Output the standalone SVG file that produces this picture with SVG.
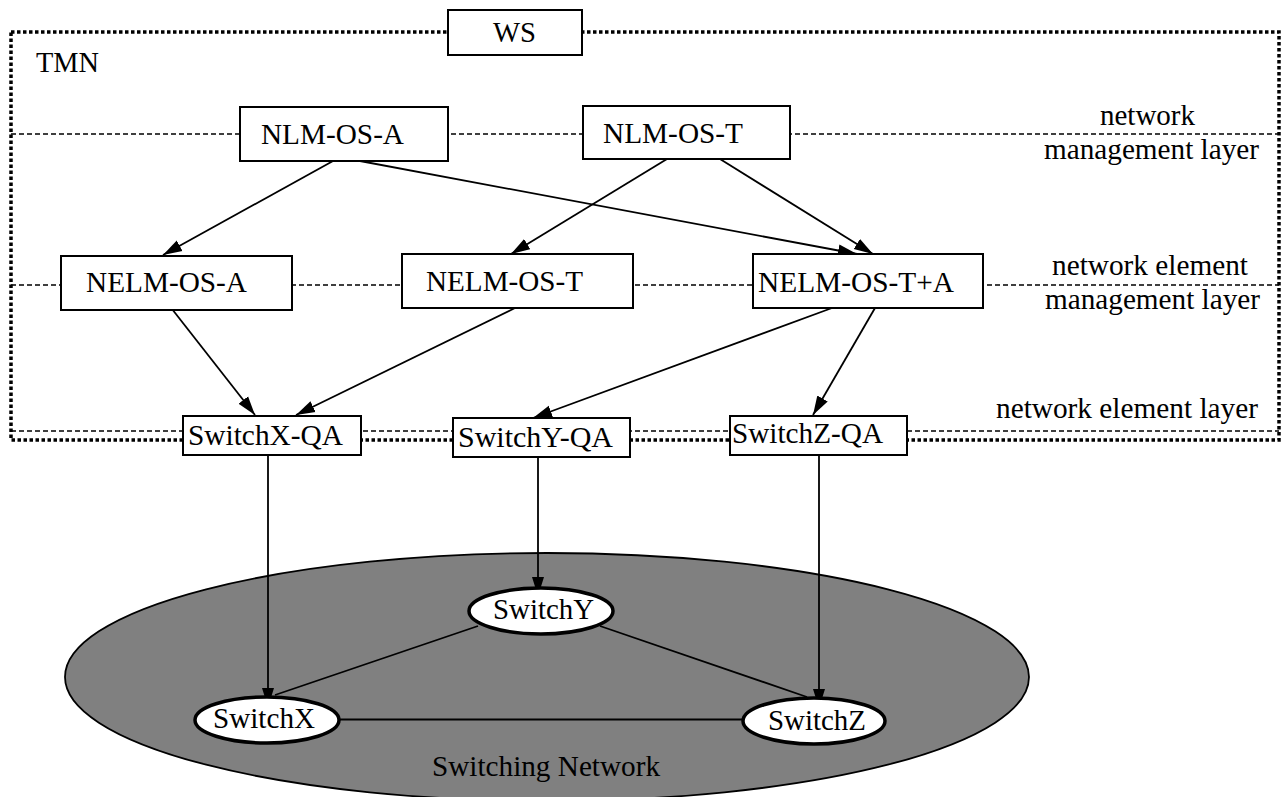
<svg xmlns="http://www.w3.org/2000/svg" width="1282" height="797" viewBox="0 0 1282 797">
<style>
text{font-family:"Liberation Serif","Times New Roman",serif;font-size:28.5px;fill:#000}
.box{fill:#fff;stroke:#000;stroke-width:2}
.frame{fill:none;stroke:#000;stroke-width:3.5;stroke-dasharray:3.5 2.5}
.layer{fill:none;stroke:#000;stroke-width:1.6;stroke-dasharray:5 3}
.edge{fill:none;stroke:#000;stroke-width:1.8}
.arr{fill:none;stroke:#000;stroke-width:1.8;marker-end:url(#ah)}
.sw{fill:#fff;stroke:#000;stroke-width:3.5}
</style>
<defs>
<marker id="ah" markerUnits="userSpaceOnUse" markerWidth="20" markerHeight="14" viewBox="0 0 20 14" refX="19" refY="7" orient="auto">
<path d="M0,1 L19,7 L0,13 Z" fill="#000"/>
</marker>
</defs>
<g id="network-area">
<ellipse cx="547" cy="677" rx="482" ry="124" fill="#808080" stroke="#000" stroke-width="1.8"/>
<text x="432" y="776" textLength="228" lengthAdjust="spacingAndGlyphs">Switching Network</text>
</g>
<g id="tmn-frame">
<rect class="frame" x="11" y="32" width="1268" height="408"/>
<line class="layer" x1="11" y1="134" x2="1279" y2="134"/>
<line class="layer" x1="11" y1="285" x2="1279" y2="285"/>
<line class="layer" x1="11" y1="431" x2="1279" y2="431"/>
<text x="36" y="72" textLength="63" lengthAdjust="spacingAndGlyphs">TMN</text>
<text x="1100" y="125" textLength="95" lengthAdjust="spacingAndGlyphs">network</text>
<text x="1044" y="159" textLength="215" lengthAdjust="spacingAndGlyphs">management layer</text>
<text x="1052" y="275" textLength="196" lengthAdjust="spacingAndGlyphs">network element</text>
<text x="1045" y="309" textLength="215" lengthAdjust="spacingAndGlyphs">management layer</text>
<text x="996" y="418" textLength="262" lengthAdjust="spacingAndGlyphs">network element layer</text>
</g>
<g id="connectors">
<line class="arr" x1="333" y1="161" x2="163" y2="255"/>
<line class="arr" x1="360" y1="161" x2="857" y2="254"/>
<line class="arr" x1="667" y1="159" x2="511" y2="254"/>
<line class="arr" x1="720" y1="159" x2="873" y2="254"/>
<line class="arr" x1="172" y1="309" x2="255" y2="415"/>
<line class="arr" x1="515" y1="308" x2="296" y2="415"/>
<line class="arr" x1="832" y1="308" x2="533" y2="418"/>
<line class="arr" x1="875" y1="308" x2="813" y2="415"/>
<line class="arr" x1="268" y1="455" x2="268" y2="707"/>
<line class="arr" x1="538" y1="457" x2="538" y2="596"/>
<line class="arr" x1="819" y1="455" x2="819" y2="708"/>
<line class="edge" x1="478" y1="626" x2="275" y2="695"/>
<line class="edge" x1="600" y1="626" x2="807" y2="697"/>
<line class="edge" x1="340" y1="719.5" x2="743" y2="719.5"/>
</g>
<g id="WS">
<rect class="box" x="448" y="10" width="134" height="45"/>
<text x="493" y="42" textLength="43" lengthAdjust="spacingAndGlyphs">WS</text>
</g>
<g id="NLM-OS-A">
<rect class="box" x="240" y="107" width="208" height="54"/>
<text x="261" y="144" textLength="143" lengthAdjust="spacingAndGlyphs">NLM-OS-A</text>
</g>
<g id="NLM-OS-T">
<rect class="box" x="583" y="106" width="207" height="53"/>
<text x="603" y="143" textLength="140" lengthAdjust="spacingAndGlyphs">NLM-OS-T</text>
</g>
<g id="NELM-OS-A">
<rect class="box" x="61" y="256" width="231" height="54"/>
<text x="86" y="292" textLength="161" lengthAdjust="spacingAndGlyphs">NELM-OS-A</text>
</g>
<g id="NELM-OS-T">
<rect class="box" x="402" y="254" width="231" height="54"/>
<text x="426" y="291" textLength="157" lengthAdjust="spacingAndGlyphs">NELM-OS-T</text>
</g>
<g id="NELM-OS-TA">
<rect class="box" x="753" y="254" width="230" height="54"/>
<text x="758" y="292" textLength="196" lengthAdjust="spacingAndGlyphs">NELM-OS-T+A</text>
</g>
<g id="SwitchX-QA">
<rect class="box" x="183" y="416" width="178" height="39"/>
<text x="188" y="445" textLength="155" lengthAdjust="spacingAndGlyphs">SwitchX-QA</text>
</g>
<g id="SwitchY-QA">
<rect class="box" x="453" y="418" width="177" height="39"/>
<text x="458" y="447" textLength="155" lengthAdjust="spacingAndGlyphs">SwitchY-QA</text>
</g>
<g id="SwitchZ-QA">
<rect class="box" x="730" y="416" width="177" height="39"/>
<text x="732" y="443" textLength="151" lengthAdjust="spacingAndGlyphs">SwitchZ-QA</text>
</g>
<g id="SwitchX">
<ellipse class="sw" cx="267" cy="720" rx="72" ry="23"/>
<text x="213" y="728" textLength="102" lengthAdjust="spacingAndGlyphs">SwitchX</text>
</g>
<g id="SwitchY">
<ellipse class="sw" cx="541" cy="611" rx="72" ry="23"/>
<text x="493" y="619" textLength="101" lengthAdjust="spacingAndGlyphs">SwitchY</text>
</g>
<g id="SwitchZ">
<ellipse class="sw" cx="814" cy="721" rx="71" ry="23"/>
<text x="768" y="730" textLength="98" lengthAdjust="spacingAndGlyphs">SwitchZ</text>
</g>
</svg>
